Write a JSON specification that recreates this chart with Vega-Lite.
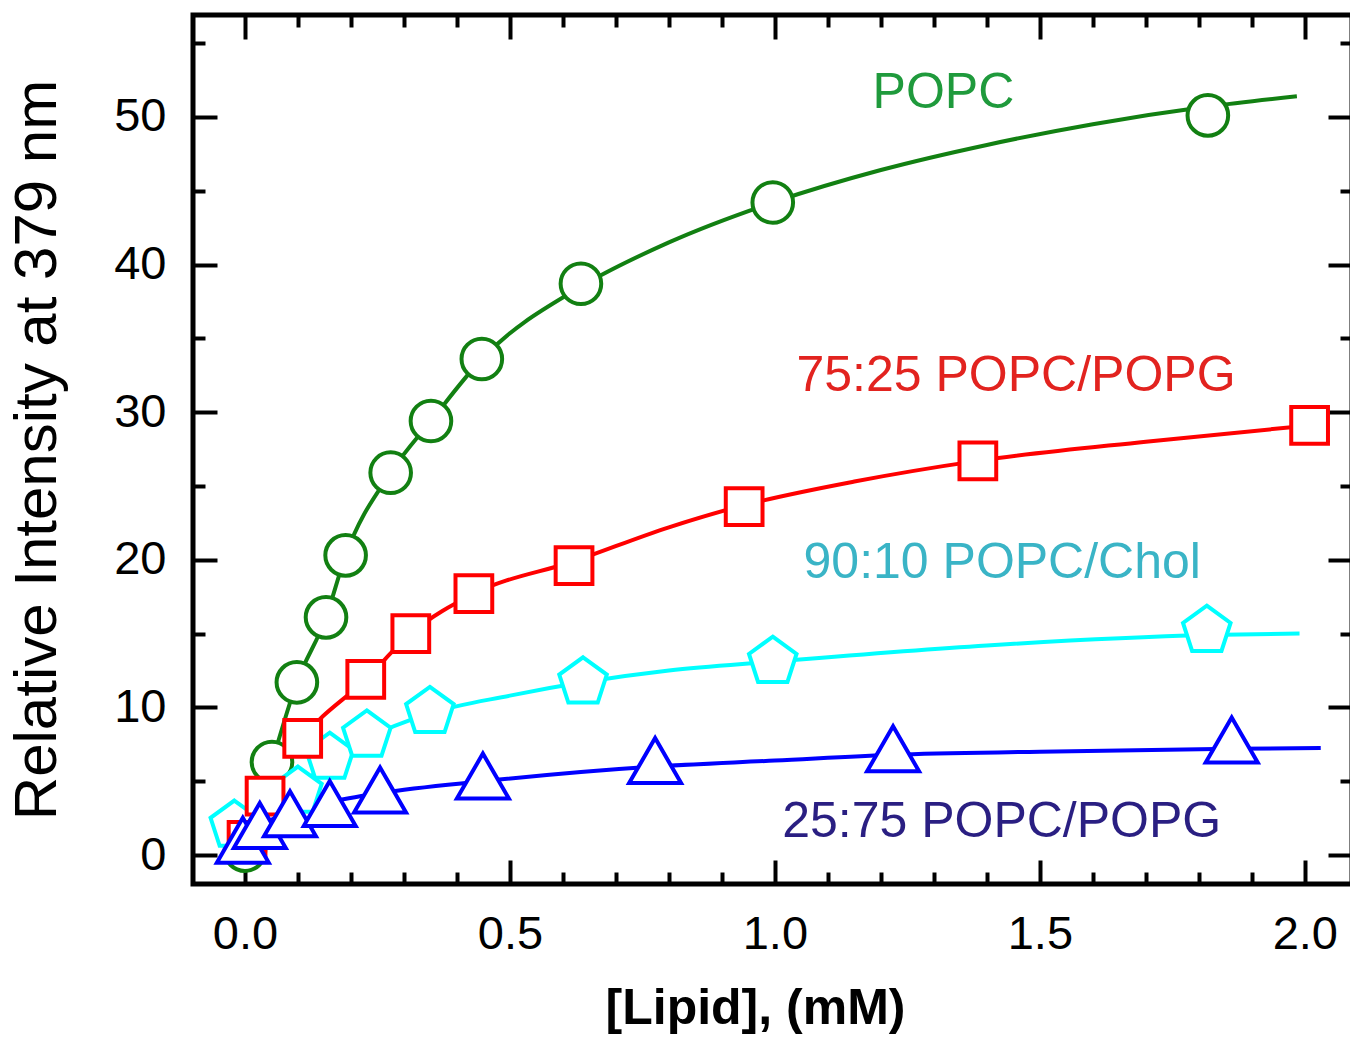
{
  "$schema": "https://vega.github.io/schema/vega-lite/v6.json",
  "width": 1159,
  "height": 869,
  "autosize": {"type": "none"},
  "padding": {"left": 193, "top": 15, "right": 0, "bottom": 154},
  "background": "white",
  "config": {
    "font": "Liberation Sans",
    "view": {"stroke": "black", "strokeWidth": 5},
    "axis": {
      "domain": false, "grid": false, "tickColor": "black", "tickWidth": 4,
      "labelFont": "Liberation Sans", "labelFontSize": 47, "labelColor": "black",
      "titleFont": "Liberation Sans", "titleColor": "black"
    }
  },
  "datasets": {
    "fit": [
      {"s": "POPC", "x": 0.0, "y": 0.3}, {"s": "POPC", "x": 0.051, "y": 6.3}, {"s": "POPC", "x": 0.098, "y": 11.7},
      {"s": "POPC", "x": 0.153, "y": 16.1}, {"s": "POPC", "x": 0.19, "y": 20.3}, {"s": "POPC", "x": 0.275, "y": 25.9},
      {"s": "POPC", "x": 0.351, "y": 29.4}, {"s": "POPC", "x": 0.447, "y": 33.6}, {"s": "POPC", "x": 0.634, "y": 38.5},
      {"s": "POPC", "x": 0.8, "y": 41.5}, {"s": "POPC", "x": 0.996, "y": 44.2}, {"s": "POPC", "x": 1.2, "y": 46.4},
      {"s": "POPC", "x": 1.4, "y": 48.1}, {"s": "POPC", "x": 1.6, "y": 49.5}, {"s": "POPC", "x": 1.817, "y": 50.7},
      {"s": "POPC", "x": 1.985, "y": 51.4},
      {"s": "75:25 POPC/POPG", "x": 0.0, "y": 0.3}, {"s": "75:25 POPC/POPG", "x": 0.004, "y": 1.0},
      {"s": "75:25 POPC/POPG", "x": 0.038, "y": 4.0}, {"s": "75:25 POPC/POPG", "x": 0.109, "y": 7.9},
      {"s": "75:25 POPC/POPG", "x": 0.228, "y": 11.9}, {"s": "75:25 POPC/POPG", "x": 0.313, "y": 15.0},
      {"s": "75:25 POPC/POPG", "x": 0.432, "y": 17.7}, {"s": "75:25 POPC/POPG", "x": 0.621, "y": 19.9},
      {"s": "75:25 POPC/POPG", "x": 0.8, "y": 22.2}, {"s": "75:25 POPC/POPG", "x": 0.942, "y": 23.7},
      {"s": "75:25 POPC/POPG", "x": 1.15, "y": 25.3}, {"s": "75:25 POPC/POPG", "x": 1.383, "y": 26.7},
      {"s": "75:25 POPC/POPG", "x": 1.7, "y": 28.0}, {"s": "75:25 POPC/POPG", "x": 2.009, "y": 29.1},
      {"s": "90:10 POPC/Chol", "x": -0.03, "y": 1.5}, {"s": "90:10 POPC/Chol", "x": 0.0, "y": 2.4},
      {"s": "90:10 POPC/Chol", "x": 0.05, "y": 3.6}, {"s": "90:10 POPC/Chol", "x": 0.1, "y": 4.6},
      {"s": "90:10 POPC/Chol", "x": 0.16, "y": 6.4}, {"s": "90:10 POPC/Chol", "x": 0.23, "y": 7.9},
      {"s": "90:10 POPC/Chol", "x": 0.349, "y": 9.6}, {"s": "90:10 POPC/Chol", "x": 0.5, "y": 10.8},
      {"s": "90:10 POPC/Chol", "x": 0.638, "y": 11.7}, {"s": "90:10 POPC/Chol", "x": 0.8, "y": 12.5},
      {"s": "90:10 POPC/Chol", "x": 0.996, "y": 13.1}, {"s": "90:10 POPC/Chol", "x": 1.4, "y": 14.2},
      {"s": "90:10 POPC/Chol", "x": 1.815, "y": 14.9}, {"s": "90:10 POPC/Chol", "x": 1.99, "y": 15.0},
      {"s": "25:75 POPC/POPG", "x": -0.043, "y": 0.0}, {"s": "25:75 POPC/POPG", "x": 0.0, "y": 1.2},
      {"s": "25:75 POPC/POPG", "x": 0.03, "y": 2.0}, {"s": "25:75 POPC/POPG", "x": 0.085, "y": 2.9},
      {"s": "25:75 POPC/POPG", "x": 0.16, "y": 3.6}, {"s": "25:75 POPC/POPG", "x": 0.255, "y": 4.2},
      {"s": "25:75 POPC/POPG", "x": 0.449, "y": 5.0}, {"s": "25:75 POPC/POPG", "x": 0.774, "y": 6.0},
      {"s": "25:75 POPC/POPG", "x": 1.0, "y": 6.4}, {"s": "25:75 POPC/POPG", "x": 1.223, "y": 6.8},
      {"s": "25:75 POPC/POPG", "x": 1.5, "y": 7.0}, {"s": "25:75 POPC/POPG", "x": 1.862, "y": 7.2},
      {"s": "25:75 POPC/POPG", "x": 2.03, "y": 7.25}
    ],
    "pts": [
      {"s": "POPC", "x": 0.0, "y": 0.3}, {"s": "POPC", "x": 0.051, "y": 6.3}, {"s": "POPC", "x": 0.098, "y": 11.7},
      {"s": "POPC", "x": 0.153, "y": 16.1}, {"s": "POPC", "x": 0.19, "y": 20.3}, {"s": "POPC", "x": 0.275, "y": 25.9},
      {"s": "POPC", "x": 0.351, "y": 29.4}, {"s": "POPC", "x": 0.447, "y": 33.6}, {"s": "POPC", "x": 0.634, "y": 38.7},
      {"s": "POPC", "x": 0.996, "y": 44.2}, {"s": "POPC", "x": 1.817, "y": 50.1},
      {"s": "90:10 POPC/Chol", "x": -0.02, "y": 2.0}, {"s": "90:10 POPC/Chol", "x": 0.1, "y": 4.3},
      {"s": "90:10 POPC/Chol", "x": 0.16, "y": 6.6}, {"s": "90:10 POPC/Chol", "x": 0.23, "y": 8.1},
      {"s": "90:10 POPC/Chol", "x": 0.349, "y": 9.7}, {"s": "90:10 POPC/Chol", "x": 0.638, "y": 11.7},
      {"s": "90:10 POPC/Chol", "x": 0.996, "y": 13.1}, {"s": "90:10 POPC/Chol", "x": 1.815, "y": 15.2},
      {"s": "75:25 POPC/POPG", "x": 0.004, "y": 1.0}, {"s": "75:25 POPC/POPG", "x": 0.038, "y": 4.0},
      {"s": "75:25 POPC/POPG", "x": 0.109, "y": 7.9}, {"s": "75:25 POPC/POPG", "x": 0.228, "y": 11.9},
      {"s": "75:25 POPC/POPG", "x": 0.313, "y": 15.0}, {"s": "75:25 POPC/POPG", "x": 0.432, "y": 17.7},
      {"s": "75:25 POPC/POPG", "x": 0.621, "y": 19.6}, {"s": "75:25 POPC/POPG", "x": 0.942, "y": 23.6},
      {"s": "75:25 POPC/POPG", "x": 1.383, "y": 26.7}, {"s": "75:25 POPC/POPG", "x": 2.009, "y": 29.1},
      {"s": "25:75 POPC/POPG", "x": -0.004, "y": 1.0}, {"s": "25:75 POPC/POPG", "x": 0.028, "y": 2.0},
      {"s": "25:75 POPC/POPG", "x": 0.085, "y": 2.8}, {"s": "25:75 POPC/POPG", "x": 0.16, "y": 3.5},
      {"s": "25:75 POPC/POPG", "x": 0.255, "y": 4.4}, {"s": "25:75 POPC/POPG", "x": 0.449, "y": 5.35},
      {"s": "25:75 POPC/POPG", "x": 0.774, "y": 6.4}, {"s": "25:75 POPC/POPG", "x": 1.223, "y": 7.2},
      {"s": "25:75 POPC/POPG", "x": 1.862, "y": 7.8}
    ],
    "labels": [
      {"s": "POPC", "x": 1.318, "y": 50.6},
      {"s": "75:25 POPC/POPG", "x": 1.455, "y": 31.4},
      {"s": "90:10 POPC/Chol", "x": 1.429, "y": 18.8},
      {"s": "25:75 POPC/POPG", "x": 1.428, "y": 1.2}
    ]
  },
  "resolve": {
    "axis": {"x": "independent", "y": "independent"},
    "scale": {"color": "independent"}
  },
  "layer": [
    {
      "data": {"name": "fit"},
      "transform": [{"filter": {"field": "s", "oneOf": ["POPC", "75:25 POPC/POPG"]}}],
      "mark": {"type": "line", "strokeWidth": 4, "interpolate": "monotone"},
      "encoding": {
        "x": {"field": "x", "type": "quantitative",
          "scale": {"domain": [-0.098, 2.089], "nice": false, "zero": false},
          "axis": {"orient": "bottom", "values": [0, 0.5, 1, 1.5, 2], "format": ".1f", "tickSize": -24,
            "labelPadding": 51, "title": "[Lipid], (mM)", "titleFontSize": 50, "titleFontWeight": "bold", "titlePadding": 26,
            "titleX": 562, "titleAnchor": "middle", "titleAlign": "center"}},
        "y": {"field": "y", "type": "quantitative",
          "scale": {"domain": [-1.96, 56.9], "nice": false, "zero": false},
          "axis": {"orient": "left", "values": [0, 10, 20, 30, 40, 50], "tickSize": -24, "labelPadding": 51,
            "title": "Relative Intensity at 379 nm", "titleFontSize": 60, "titleFontWeight": "normal", "titlePadding": 45}},
        "color": {"field": "s", "type": "nominal", "legend": null,
          "scale": {"domain": ["POPC", "75:25 POPC/POPG", "90:10 POPC/Chol", "25:75 POPC/POPG"],
            "range": ["#128012", "#ff0000", "#00ffff", "#0000ff"]}}
      }
    },
    {
      "data": {"name": "fit"},
      "transform": [{"filter": {"field": "s", "oneOf": ["90:10 POPC/Chol", "25:75 POPC/POPG"]}}],
      "mark": {"type": "line", "strokeWidth": 4, "interpolate": "monotone"},
      "encoding": {
        "x": {"field": "x", "type": "quantitative",
          "axis": {"orient": "bottom", "values": [0.1, 0.2, 0.3, 0.4, 0.6, 0.7, 0.8, 0.9, 1.1, 1.2, 1.3, 1.4, 1.6, 1.7, 1.8, 1.9], "tickSize": -12, "labels": false, "title": null}},
        "y": {"field": "y", "type": "quantitative",
          "axis": {"orient": "left", "values": [5, 15, 25, 35, 45, 55], "tickSize": -12, "labels": false, "title": null}},
        "color": {"field": "s", "type": "nominal", "legend": null,
          "scale": {"domain": ["POPC", "75:25 POPC/POPG", "90:10 POPC/Chol", "25:75 POPC/POPG"],
            "range": ["#128012", "#ff0000", "#00ffff", "#0000ff"]}}
      }
    },
    {
      "data": {"name": "pts"},
      "mark": {"type": "point", "filled": false, "fill": "white", "fillOpacity": 1, "strokeWidth": 4, "opacity": 1},
      "encoding": {
        "x": {"field": "x", "type": "quantitative",
          "axis": {"orient": "top", "values": [0, 0.5, 1, 1.5, 2], "tickSize": -24, "labels": false, "title": null}},
        "y": {"field": "y", "type": "quantitative",
          "axis": {"orient": "right", "values": [0, 10, 20, 30, 40, 50], "tickSize": -24, "labels": false, "title": null}},
        "color": {"field": "s", "type": "nominal", "legend": null,
          "scale": {"domain": ["POPC", "75:25 POPC/POPG", "90:10 POPC/Chol", "25:75 POPC/POPG"],
            "range": ["#128012", "#ff0000", "#00ffff", "#0000ff"]}},
        "shape": {"field": "s", "type": "nominal", "legend": null,
          "scale": {"domain": ["POPC", "75:25 POPC/POPG", "90:10 POPC/Chol", "25:75 POPC/POPG"],
            "range": ["circle", "square", "M0,-1L0.951,-0.309L0.588,0.809L-0.588,0.809L-0.951,-0.309Z", "triangle-up"]}},
        "size": {"field": "s", "type": "nominal", "legend": null,
          "scale": {"type": "ordinal", "domain": ["POPC", "75:25 POPC/POPG", "90:10 POPC/Chol", "25:75 POPC/POPG"],
            "range": [1650, 1350, 2500, 2700]}}
      }
    },
    {
      "data": {"name": "labels"},
      "mark": {"type": "text", "fontSize": 50, "align": "center", "baseline": "alphabetic", "font": "Liberation Sans"},
      "encoding": {
        "x": {"field": "x", "type": "quantitative",
          "axis": {"orient": "top", "values": [0.1, 0.2, 0.3, 0.4, 0.6, 0.7, 0.8, 0.9, 1.1, 1.2, 1.3, 1.4, 1.6, 1.7, 1.8, 1.9], "tickSize": -12, "labels": false, "title": null}},
        "y": {"field": "y", "type": "quantitative",
          "axis": {"orient": "right", "values": [5, 15, 25, 35, 45, 55], "tickSize": -12, "labels": false, "title": null}},
        "text": {"field": "s"},
        "color": {"field": "s", "type": "nominal", "legend": null,
          "scale": {"domain": ["POPC", "75:25 POPC/POPG", "90:10 POPC/Chol", "25:75 POPC/POPG"],
            "range": ["#1f9a3c", "#e2231f", "#3ab4c6", "#2a1f82"]}}
      }
    }
  ]
}
